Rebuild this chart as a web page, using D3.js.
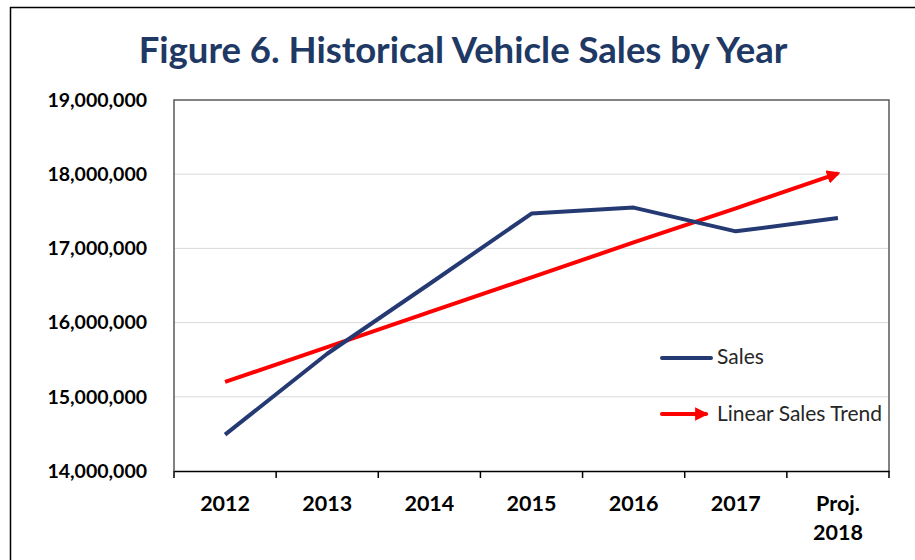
<!DOCTYPE html>
<html>
<head>
<meta charset="utf-8">
<script src="https://cdn.jsdelivr.net/npm/d3@7"></script>
<style>
  body { margin: 0; background: #fff; }
  svg text { font-family: Lato, "Open Sans", sans-serif; }
</style>
</head>
<body>
<div id="chart"></div>
<script>
// data
var years = ["2012", "2013", "2014", "2015", "2016", "2017", "Proj. 2018"];
var sales = [14490000, 15580000, 16520000, 17470000, 17550000, 17230000, 17410000];
var trend = [15200000, 15670000, 16140000, 16610000, 17080000, 17540000, 18010000];
var yTicks = [14000000, 15000000, 16000000, 17000000, 18000000, 19000000];

var W = 915, H = 560;
var margin = {top: 100, right: 26, bottom: 89, left: 174},
    width = W - margin.left - margin.right,
    height = H - margin.top - margin.bottom;

var root = d3.select("#chart").append("svg")
    .attr("width", W)
    .attr("height", H);

// outer frame (runs off the right and bottom edges)
root.append("path")
    .attr("d", "M10.5,560 L10.5,7.5 L915,7.5")
    .attr("fill", "none")
    .attr("stroke", "#000")
    .attr("stroke-width", 1.5);

root.append("text")
    .attr("x", 463)
    .attr("y", 63)
    .attr("text-anchor", "middle")
    .style("font-size", "36.5px")
    .style("font-weight", "bold")
    .style("fill", "#203864")
    .text("Figure 6. Historical Vehicle Sales by Year");

var svg = root.append("g")
    .attr("transform", "translate(" + margin.left + "," + margin.top + ")");

var x = d3.scaleBand()
    .domain(years)
    .range([0, width]);

var y = d3.scaleLinear()
    .domain([14000000, 19000000])
    .range([height, 0]);

// gridlines
svg.selectAll(".grid")
    .data(yTicks.slice(1, -1))
    .enter()
    .append("line")
    .attr("x1", 0)
    .attr("x2", width)
    .attr("y1", function(d) { return y(d); })
    .attr("y2", function(d) { return y(d); })
    .attr("stroke", "#d9d9d9")
    .attr("stroke-width", 1);

// plot box
svg.append("path")
    .attr("d", "M0," + height + " V0 H" + width + " V" + height)
    .attr("fill", "none")
    .attr("stroke", "#595959")
    .attr("stroke-width", 1.5);

// y axis labels
var yAxis = svg.append("g")
    .call(d3.axisLeft(y).tickValues(yTicks).tickSize(0).tickPadding(27)
      .tickFormat(d3.format(",")));
yAxis.select(".domain").remove();
yAxis.selectAll("text")
    .style("font-family", "Lato, sans-serif")
    .style("font-size", "19.5px")
    .style("font-weight", "bold")
    .style("fill", "#000");

// x axis
var xAxis = svg.append("g")
    .attr("transform", "translate(0," + height + ")")
    .call(d3.axisBottom(x).tickSize(0).tickPadding(0));
xAxis.select(".domain")
    .attr("stroke", "#000")
    .attr("stroke-width", 1.5);
xAxis.selectAll(".tick line").remove();
xAxis.selectAll(".sep")
    .data(years)
    .enter()
    .append("line")
    .attr("x1", function(d) { return x(d) + x.bandwidth(); })
    .attr("x2", function(d) { return x(d) + x.bandwidth(); })
    .attr("y1", 0)
    .attr("y2", 7)
    .attr("stroke", "#000")
    .attr("stroke-width", 1.5);
xAxis.append("line")
    .attr("x1", 0).attr("x2", 0).attr("y1", 0).attr("y2", 7)
    .attr("stroke", "#000").attr("stroke-width", 1.5);

xAxis.selectAll(".tick text").each(function(d) {
  var t = d3.select(this);
  var parts = d.split(" ");
  t.text(null)
    .attr("y", 0)
    .attr("dy", null)
    .style("font-family", "Lato, sans-serif")
    .style("font-size", "21.5px")
    .style("font-weight", "bold")
    .style("fill", "#000");
  parts.forEach(function(p, i) {
    t.append("tspan")
      .attr("x", 0)
      .attr("y", 40 + i * 29)
      .text(p);
  });
});

var cx = function(i) { return x(years[i]) + x.bandwidth() / 2; };

// arrow head
var defs = root.append("defs");
defs.append("marker")
    .attr("id", "arrow")
    .attr("viewBox", "0 0 10 10")
    .attr("refX", 8)
    .attr("refY", 5)
    .attr("markerWidth", 3.4)
    .attr("markerHeight", 3.4)
    .attr("markerUnits", "strokeWidth")
    .attr("orient", "auto")
    .append("path")
    .attr("d", "M0,0 L10,5 L0,10 Z")
    .attr("fill", "#ff0000");

var line = d3.line()
    .x(function(d, i) { return cx(i); })
    .y(function(d) { return y(d); });

svg.append("path")
    .datum(trend)
    .attr("d", line)
    .attr("fill", "none")
    .attr("stroke", "#ff0000")
    .attr("stroke-width", 4)
    .attr("marker-end", "url(#arrow)");

svg.append("path")
    .datum(sales)
    .attr("d", line)
    .attr("fill", "none")
    .attr("stroke", "#253a73")
    .attr("stroke-width", 4)
    .attr("stroke-linejoin", "round");

// legend
var legend = root.append("g");
legend.append("line")
    .attr("x1", 662).attr("x2", 711)
    .attr("y1", 358).attr("y2", 358)
    .attr("stroke", "#253a73")
    .attr("stroke-width", 4)
    .attr("stroke-linecap", "round");
legend.append("line")
    .attr("x1", 662).attr("x2", 706)
    .attr("y1", 414).attr("y2", 414)
    .attr("stroke", "#ff0000")
    .attr("stroke-width", 4)
    .attr("stroke-linecap", "round")
    .attr("marker-end", "url(#arrow)");
legend.append("text")
    .attr("x", 717).attr("y", 364)
    .style("font-size", "21px")
    .style("fill", "#262626")
    .text("Sales");
legend.append("text")
    .attr("x", 717).attr("y", 421)
    .style("font-size", "21px")
    .style("fill", "#262626")
    .text("Linear Sales Trend");
</script>
</body>
</html>
